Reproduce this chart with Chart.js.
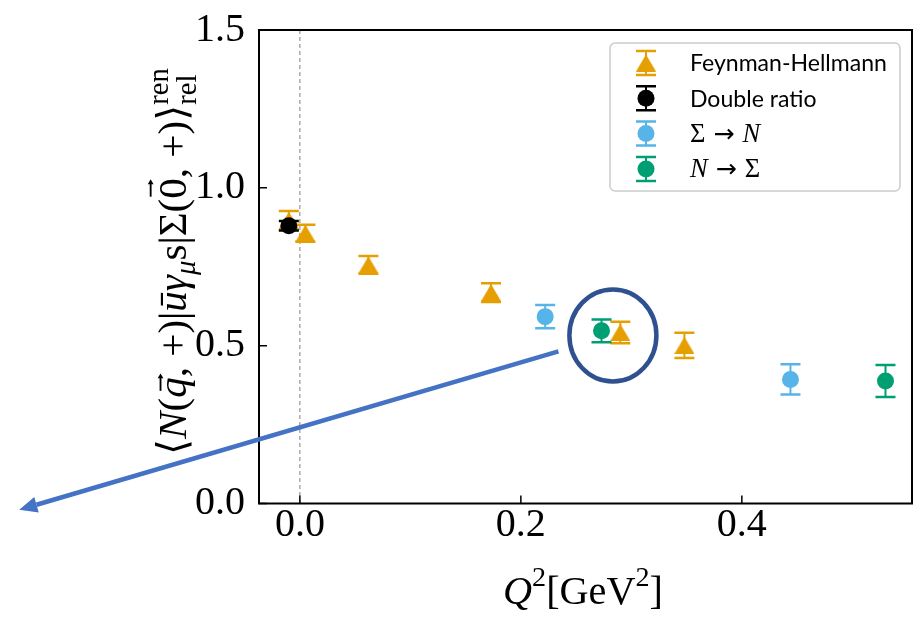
<!DOCTYPE html>
<html><head><meta charset="utf-8">
<script src="https://cdn.jsdelivr.net/npm/chart.js@4"></script>
<style>html,body{margin:0;padding:0;background:#fff}#wrap{width:922px;height:620px;position:relative}</style>
</head><body><div id="wrap"><canvas id="c" width="922" height="620"></canvas></div>
<script>
// ---- data ----
const FH_X   = [-0.010, 0.005, 0.062, 0.173, 0.290, 0.348];
const FH_Y   = [ 0.897, 0.856, 0.756, 0.668, 0.542, 0.501];
const FH_ERR = [ 0.030, 0.027, 0.028, 0.030, 0.034, 0.040];
const DR_X   = [-0.010];
const DR_Y   = [ 0.880];
const DR_ERR = [ 0.015];
const SN_X   = [0.222, 0.444];
const SN_Y   = [0.592, 0.393];
const SN_ERR = [0.037, 0.048];
const NS_X   = [0.273, 0.530];
const NS_Y   = [0.547, 0.388];
const NS_ERR = [0.036, 0.051];
const X_TICKS = [0.0, 0.2, 0.4];
const Y_TICKS = [0.0, 0.5, 1.0, 1.5];
const SERIES_LABELS = ['Feynman-Hellmann', 'Double ratio', 'Σ → N', 'N → Σ'];

const ORANGE = '#E69F00', BLACK = '#000000', SKY = '#56B4E9', GREEN = '#009E73';
const SERIF = '"Liberation Serif", "DejaVu Serif", serif';

const SERIES = [
  {x: FH_X, y: FH_Y, e: FH_ERR, color: ORANGE, marker: 'tri'},
  {x: DR_X, y: DR_Y, e: DR_ERR, color: BLACK, marker: 'circ'},
  {x: SN_X, y: SN_Y, e: SN_ERR, color: SKY, marker: 'circ'},
  {x: NS_X, y: NS_Y, e: NS_ERR, color: GREEN, marker: 'circ'}
];

function makeTri(color) {
  const c = document.createElement('canvas'); c.width = 20; c.height = 17;
  const t = c.getContext('2d'); t.fillStyle = color;
  t.beginPath(); t.moveTo(10, 0); t.lineTo(20, 17); t.lineTo(0, 17); t.closePath(); t.fill();
  return c;
}
const TRI = makeTri(ORANGE);

// ---- text helpers ----
function fontFor(p, F) { return (p.it ? 'italic ' : '') + (F * (p.s || 1)).toFixed(2) + 'px ' + (p.fam || SERIF); }
function pieceWidth(ctx, p, F) {
  if (p.stack) return Math.max(...p.stack.map(q => pieceWidth(ctx, q, F)));
  ctx.font = fontFor(p, F); return ctx.measureText(p.t).width + (p.pad || 0) * F;
}
function piecesWidth(ctx, ps, F) { return ps.reduce((a, p) => a + pieceWidth(ctx, p, F), 0); }
function drawVec(ctx, x0, x1, y, F) {
  const hl = 0.12 * F, hw = 0.07 * F;
  ctx.save(); ctx.lineWidth = Math.max(1, 0.045 * F); ctx.strokeStyle = ctx.fillStyle;
  ctx.beginPath(); ctx.moveTo(x0, y); ctx.lineTo(x1 - hl * 0.6, y); ctx.stroke();
  ctx.beginPath(); ctx.moveTo(x1, y); ctx.lineTo(x1 - hl, y - hw); ctx.lineTo(x1 - hl, y + hw); ctx.closePath(); ctx.fill();
  ctx.restore();
}
function drawPieces(ctx, ps, x, y, F) {
  for (const p of ps) {
    const list = p.stack ? p.stack : [p];
    for (const q of list) {
      ctx.font = fontFor(q, F);
      const xx = x + (q.padL || 0) * F;
      ctx.fillText(q.t, xx, y + (q.dy || 0) * F);
      if (q.vec) {
        const w = ctx.measureText(q.t).width;
        const sh = q.it ? 0.12 * F : 0;
        drawVec(ctx, xx + 0.1 * w + sh, xx + 0.95 * w + sh, y - q.vec * F, F);
      }
    }
    x += pieceWidth(ctx, p, F);
  }
}
const Y_TITLE = [{t:'⟨'},{t:'N',it:1},{t:'('},{t:'q',it:1,vec:0.62},{t:', +)|'},{t:'ū',it:1},{t:'γ',it:1},
  {t:'μ',it:1,s:0.7,dy:0.22},{t:'s'},{t:'|Σ('},{t:'0',vec:0.86},{t:', +)⟩'},
  {stack:[{t:'ren',s:0.7,dy:-0.45},{t:'rel',s:0.7,dy:0.25}]}];
const X_TITLE = [{t:'Q',it:1},{t:'2',s:0.7,dy:-0.45},{t:'[GeV'},{t:'2',s:0.7,dy:-0.45},{t:']'}];
const ARROW = {t:'→', fam:'"DejaVu Sans", sans-serif', s:0.95};
const LEG_MATH = {
  'Σ → N': [{t:'Σ', pad:0.3},ARROW,{t:'N',it:1,padL:0.3}],
  'N → Σ': [{t:'N',it:1, pad:0.3},ARROW,{t:'Σ',padL:0.3}]
};

function drawErrorBars(ctx, chart, s, capW) {
  const sx = chart.scales.x, sy = chart.scales.y;
  ctx.save(); ctx.strokeStyle = s.color;
  s.x.forEach((xv, i) => {
    const px = sx.getPixelForValue(xv);
    const top = sy.getPixelForValue(s.y[i] + s.e[i]);
    const bot = sy.getPixelForValue(s.y[i] - s.e[i]);
    ctx.lineWidth = 2;
    ctx.beginPath(); ctx.moveTo(px, top); ctx.lineTo(px, bot); ctx.stroke();
    ctx.lineWidth = 2.5;
    ctx.beginPath();
    ctx.moveTo(px - capW / 2, top); ctx.lineTo(px + capW / 2, top);
    ctx.moveTo(px - capW / 2, bot); ctx.lineTo(px + capW / 2, bot);
    ctx.stroke();
  });
  ctx.restore();
}

const ANNOT = { circle: {x: 0.2833, y: 0.5325, rx: 43.5, ry: 46}, arrow: {x0: 0.234, y0: 0.482, x1: -0.254, y1: -0.020} };

const decor = {
  id: 'decor',
  beforeDatasetsDraw(chart) {
    const {ctx, chartArea: a, scales: {x}} = chart;
    const px = x.getPixelForValue(0);
    ctx.save(); ctx.strokeStyle = '#7f7f7f'; ctx.lineWidth = 1; ctx.setLineDash([4, 3]);
    ctx.beginPath(); ctx.moveTo(px, a.top); ctx.lineTo(px, a.bottom); ctx.stroke(); ctx.restore();
  },
  beforeDatasetDraw(chart, args) {
    drawErrorBars(chart.ctx, chart, SERIES[args.index], 20);
  },
  afterDraw(chart) {
    const {ctx, chartArea: a, scales: {x, y}} = chart;
    ctx.save();
    ctx.strokeStyle = '#000'; ctx.lineWidth = 2;
    ctx.strokeRect(a.left, a.top, a.right - a.left, a.bottom - a.top);
    ctx.lineWidth = 1.5;
    ctx.beginPath();
    X_TICKS.forEach(v => { const p = x.getPixelForValue(v); ctx.moveTo(p, a.bottom); ctx.lineTo(p, a.bottom - 8); });
    Y_TICKS.forEach(v => { const p = y.getPixelForValue(v); ctx.moveTo(a.left, p); ctx.lineTo(a.left + 8, p); });
    ctx.stroke();

    // legend
    const L = {l: a.right - 302, t: a.top + 13, w: 290, h: 148};
    ctx.fillStyle = 'rgba(255,255,255,0.85)'; ctx.strokeStyle = '#cccccc'; ctx.lineWidth = 1.5;
    ctx.beginPath(); ctx.roundRect(L.l, L.t, L.w, L.h, 5); ctx.fill(); ctx.stroke();
    ctx.textBaseline = 'middle'; ctx.textAlign = 'left'; ctx.fillStyle = '#000';
    ctx.font = '22px Lato';
    const sansF = 22 * 197 / ctx.measureText(SERIES_LABELS[0]).width;
    SERIES.forEach((s, i) => {
      const cy = L.t + 20 + i * 35.3, cx = L.l + 36;
      ctx.strokeStyle = s.color; ctx.lineWidth = 2;
      ctx.beginPath(); ctx.moveTo(cx, cy - 12); ctx.lineTo(cx, cy + 12); ctx.stroke();
      ctx.lineWidth = 2.5;
      ctx.beginPath(); ctx.moveTo(cx - 10, cy - 12); ctx.lineTo(cx + 10, cy - 12);
      ctx.moveTo(cx - 10, cy + 12); ctx.lineTo(cx + 10, cy + 12); ctx.stroke();
      ctx.fillStyle = s.color;
      if (s.marker === 'tri') ctx.drawImage(TRI, cx - 10, cy - 8.5);
      else { ctx.beginPath(); ctx.arc(cx, cy, 8.5, 0, Math.PI * 2); ctx.fill(); }
      ctx.fillStyle = '#000';
      const lab = SERIES_LABELS[i];
      if (LEG_MATH[lab]) { ctx.textBaseline = 'alphabetic'; drawPieces(ctx, LEG_MATH[lab], L.l + 80, cy + 8, sansF * 1.15); ctx.textBaseline = 'middle'; }
      else { ctx.font = sansF.toFixed(2) + 'px Lato'; ctx.fillText(lab, L.l + 80, cy + 1); }
    });

    // axis titles
    ctx.fillStyle = '#000'; ctx.textBaseline = 'alphabetic'; ctx.textAlign = 'left';
    let F = 40; let w = piecesWidth(ctx, X_TITLE, F); F = F * 160 / w; w = piecesWidth(ctx, X_TITLE, F);
    drawPieces(ctx, X_TITLE, 583 - w / 2, 604, F);
    ctx.save();
    ctx.translate(186, 261.5); ctx.rotate(-Math.PI / 2);
    F = 30; w = piecesWidth(ctx, Y_TITLE, F); F = F * 387 / w; w = piecesWidth(ctx, Y_TITLE, F);
    drawPieces(ctx, Y_TITLE, -w / 2, 0, F);
    ctx.restore();

    // annotations: circle and arrow
    const c = ANNOT.circle;
    ctx.strokeStyle = '#2F5190'; ctx.lineWidth = 4.5;
    ctx.beginPath(); ctx.ellipse(x.getPixelForValue(c.x), y.getPixelForValue(c.y), c.rx, c.ry, 0, 0, Math.PI * 2); ctx.stroke();
    const ar = ANNOT.arrow;
    const x0 = x.getPixelForValue(ar.x0), y0 = y.getPixelForValue(ar.y0);
    const x1 = x.getPixelForValue(ar.x1), y1 = y.getPixelForValue(ar.y1);
    const ang = Math.atan2(y1 - y0, x1 - x0), hl = 18, hw = 8;
    const bx = x1 - hl * Math.cos(ang), by = y1 - hl * Math.sin(ang);
    ctx.strokeStyle = '#4472C4'; ctx.fillStyle = '#4472C4'; ctx.lineWidth = 4.5;
    ctx.beginPath(); ctx.moveTo(x0, y0); ctx.lineTo(bx, by); ctx.stroke();
    ctx.beginPath(); ctx.moveTo(x1, y1);
    ctx.lineTo(bx + hw * Math.sin(ang), by - hw * Math.cos(ang));
    ctx.lineTo(bx - hw * Math.sin(ang), by + hw * Math.cos(ang));
    ctx.closePath(); ctx.fill();
    ctx.restore();
  }
};

const ORDERS = [4, 3, 2, 1];
const datasets = SERIES.map((s, i) => ({
  label: SERIES_LABELS[i],
  data: s.x.map((xv, j) => ({x: xv, y: s.y[j]})),
  backgroundColor: s.color, borderColor: s.color, borderWidth: 0,
  pointStyle: s.marker === 'tri' ? TRI : 'circle',
  pointRadius: s.marker === 'tri' ? 10 : 8.5,
  showLine: false, order: ORDERS[i]
}));

new Chart(document.getElementById('c'), {
  type: 'scatter',
  data: {datasets},
  options: {
    responsive: false, animation: false, devicePixelRatio: 1,
    layout: {padding: {left: 0, right: 7, top: 24, bottom: 0}},
    plugins: {legend: {display: false}, tooltip: {enabled: false}},
    scales: {
      x: {
        type: 'linear', min: -0.037, max: 0.554,
        grid: {display: false, drawTicks: false}, border: {display: false},
        afterBuildTicks: s => { s.ticks = X_TICKS.map(v => ({value: v})); },
        afterFit: s => { s.height = 116.5; },
        ticks: {font: {family: 'Liberation Serif', size: 40, lineHeight: 0.8}, color: '#000', padding: 6, autoSkip: false, maxRotation: 0,
          callback: v => Number(v).toFixed(1)}
      },
      y: {
        type: 'linear', min: 0, max: 1.5,
        grid: {display: false, drawTicks: false}, border: {display: false},
        afterBuildTicks: s => { s.ticks = Y_TICKS.map(v => ({value: v})); },
        afterFit: s => { s.width = 259; },
        ticks: {font: {family: 'Liberation Serif', size: 40, lineHeight: 0.8}, color: '#000', padding: 14, autoSkip: false,
          callback: v => Number(v).toFixed(1)}
      }
    }
  },
  plugins: [decor]
});
</script></body></html>
